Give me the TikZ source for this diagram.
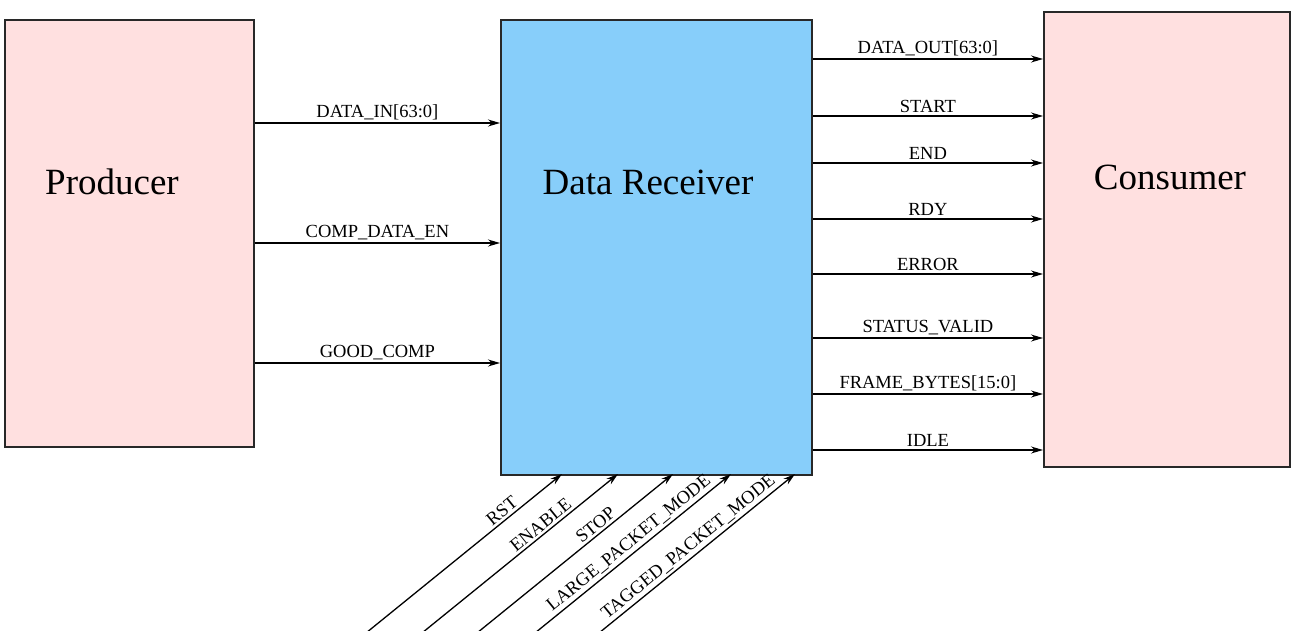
\documentclass[tikz,border=0pt]{standalone}
\usepackage{fontspec}
\setmainfont{Liberation Serif}
\usetikzlibrary{arrows.meta}
\definecolor{pinkfill}{RGB}{255,224,224}
\definecolor{bluefill}{RGB}{135,206,250}
\definecolor{edge}{RGB}{40,40,40}
\begin{document}
\begin{tikzpicture}[x=1pt,y=-1pt,
  block/.style={draw=edge,line width=1.8pt,inner sep=0pt,anchor=north west},
  title/.style={font=\fontsize{37}{40}\selectfont},
  sig/.style={line width=1.3pt,-{Stealth[length=12pt,width=7pt]}},
  lab/.style={font=\fontsize{18.5}{20}\selectfont,inner sep=2.5pt}]
\useasboundingbox (0,0) rectangle (1291,631);
\clip (0,0) rectangle (1291,631);
\node[block,fill=pinkfill,minimum width=249pt,minimum height=427pt] (prod) at (4,19) {};
\node[block,fill=bluefill,minimum width=311pt,minimum height=455pt] (dr) at (500,19) {};
\node[block,fill=pinkfill,minimum width=246pt,minimum height=455pt] (cons) at (1043,11) {};
\node[title] (tprod) at (112,182) {Producer};
\node[title] (tdr) at (648,182) {Data Receiver};
\node[title] (tcons) at (1170,177) {Consumer};
% inputs
\draw[sig] (prod.east |- 0,123) -- node[lab,above] {DATA\_IN[63:0]} (dr.west |- 0,123);
\draw[sig] (prod.east |- 0,243) -- node[lab,above] {COMP\_DATA\_EN} (dr.west |- 0,243);
\draw[sig] (prod.east |- 0,363) -- node[lab,above] {GOOD\_COMP} (dr.west |- 0,363);
% outputs
\draw[sig] (dr.east |- 0,59) -- node[lab,above] {DATA\_OUT[63:0]} (cons.west |- 0,59);
\draw[sig] (dr.east |- 0,116) -- node[lab,above] {START} (cons.west |- 0,116);
\draw[sig] (dr.east |- 0,163) -- node[lab,above] {END} (cons.west |- 0,163);
\draw[sig] (dr.east |- 0,219) -- node[lab,above] {RDY} (cons.west |- 0,219);
\draw[sig] (dr.east |- 0,274) -- node[lab,above] {ERROR} (cons.west |- 0,274);
\draw[sig] (dr.east |- 0,338) -- node[lab,above] {STATUS\_VALID} (cons.west |- 0,338);
\draw[sig] (dr.east |- 0,394) -- node[lab,above] {FRAME\_BYTES[15:0]} (cons.west |- 0,394);
\draw[sig] (dr.east |- 0,450) -- node[lab,above] {IDLE} (cons.west |- 0,450);
% bottom control inputs
\coordinate (t1) at (562,474); \coordinate (s1) at (345,650);
\coordinate (t2) at (618,474); \coordinate (s2) at (401,650);
\coordinate (t3) at (673,474); \coordinate (s3) at (456,650);
\coordinate (t4) at (731,474); \coordinate (s4) at (514,650);
\coordinate (t5) at (795,474); \coordinate (s5) at (578,650);
\draw[sig] (s1) -- node[lab,above,sloped,pos=0.75] {RST} (t1);
\draw[sig] (s2) -- node[lab,above,sloped,pos=0.67] {ENABLE} (t2);
\draw[sig] (s3) -- node[lab,above,sloped,pos=0.67] {STOP} (t3);
\draw[sig] (s4) -- node[lab,above,sloped,pos=0.56] {LARGE\_PACKET\_MODE} (t4);
\draw[sig] (s5) -- node[lab,above,sloped,pos=0.54] {TAGGED\_PACKET\_MODE} (t5);
\end{tikzpicture}
\end{document}
